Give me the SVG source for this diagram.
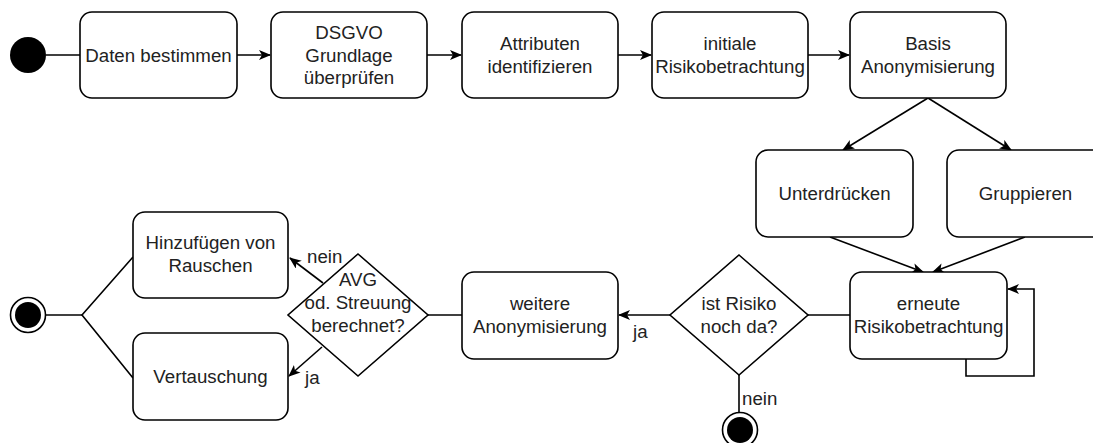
<svg xmlns="http://www.w3.org/2000/svg" width="1093" height="443" viewBox="0 0 1093 443">
  <style>
    .box { fill: #ffffff; stroke: #000000; stroke-width: 1.6; }
    .dec { fill: #ffffff; stroke: #000000; stroke-width: 1.6; }
    .edge { fill: none; stroke: #000000; stroke-width: 1.6; }
    .lbl { font-family: "Liberation Sans", Arial, sans-serif; font-size: 18.7px; fill: #222222; text-anchor: middle; }
    .elbl { font-family: "Liberation Sans", Arial, sans-serif; font-size: 18.7px; fill: #222222; text-anchor: start; }
  </style>
  <defs>
    <marker id="arrow" viewBox="0 0 12 10" refX="11" refY="5" markerWidth="12" markerHeight="10" markerUnits="userSpaceOnUse" orient="auto">
      <path d="M0,0 L12,5 L0,10 L3,5 Z" fill="#000000"/>
    </marker>
  </defs>
  <rect width="1093" height="443" fill="#ffffff"/>

  <!-- connectors -->
  <g id="connectors">
    <line class="edge" x1="46" y1="55" x2="80" y2="55"/>
    <line class="edge" x1="237" y1="55" x2="270" y2="55" marker-end="url(#arrow)"/>
    <line class="edge" x1="427" y1="55" x2="461" y2="55" marker-end="url(#arrow)"/>
    <line class="edge" x1="618" y1="55" x2="651" y2="55" marker-end="url(#arrow)"/>
    <line class="edge" x1="808" y1="55" x2="849" y2="55" marker-end="url(#arrow)"/>
    <line class="edge" x1="928" y1="98" x2="843" y2="150" marker-end="url(#arrow)"/>
    <line class="edge" x1="928" y1="98" x2="1011" y2="150" marker-end="url(#arrow)"/>
    <line class="edge" x1="830" y1="237" x2="923" y2="272" marker-end="url(#arrow)"/>
    <line class="edge" x1="1025" y1="237" x2="933" y2="272" marker-end="url(#arrow)"/>
    <polyline class="edge" points="966,359 966,376 1034,376 1034,289 1008,289" marker-end="url(#arrow)"/>
    <line class="edge" x1="850" y1="315" x2="808" y2="315"/>
    <line class="edge" x1="670" y1="315" x2="619" y2="315" marker-end="url(#arrow)"/>
    <text class="elbl" x="633" y="338">ja</text>
    <line class="edge" x1="739" y1="375" x2="739" y2="412"/>
    <text class="elbl" x="742" y="405">nein</text>
    <line class="edge" x1="462" y1="315" x2="428" y2="315"/>
    <line class="edge" x1="323" y1="283" x2="290" y2="258" marker-end="url(#arrow)"/>
    <text class="elbl" x="307" y="263">nein</text>
    <line class="edge" x1="322" y1="347" x2="289" y2="376" marker-end="url(#arrow)"/>
    <text class="elbl" x="305" y="384">ja</text>
    <polyline class="edge" points="133,257 82,315 133,378"/>
    <line class="edge" x1="46" y1="315" x2="82" y2="315"/>
  </g>

  <!-- start -->
  <g id="start">
    <circle cx="28" cy="55" r="18" fill="#000000"/>
  </g>

  <g id="daten-bestimmen">
    <rect class="box" x="80" y="12" width="157" height="86" rx="12"/>
    <text class="lbl" x="158.5" y="61.5">Daten bestimmen</text>
  </g>

  <g id="dsgvo">
    <rect class="box" x="271" y="12" width="156" height="86" rx="12"/>
    <text class="lbl" x="349" y="39">DSGVO</text>
    <text class="lbl" x="349" y="61.5">Grundlage</text>
    <text class="lbl" x="349" y="84">überprüfen</text>
  </g>

  <g id="attribute">
    <rect class="box" x="462" y="12" width="156" height="86" rx="12"/>
    <text class="lbl" x="540" y="50.3">Attributen</text>
    <text class="lbl" x="540" y="72.7">identifizieren</text>
  </g>

  <g id="initiale-risiko">
    <rect class="box" x="652" y="12" width="156" height="86" rx="12"/>
    <text class="lbl" x="730" y="50.3">initiale</text>
    <text class="lbl" x="730" y="72.7">Risikobetrachtung</text>
  </g>

  <g id="basis-anonymisierung">
    <rect class="box" x="850" y="12" width="156" height="86" rx="12"/>
    <text class="lbl" x="928" y="50.3">Basis</text>
    <text class="lbl" x="928" y="72.7">Anonymisierung</text>
  </g>

  <g id="unterdruecken">
    <rect class="box" x="756" y="150" width="157" height="87" rx="12"/>
    <text class="lbl" x="834.5" y="200">Unterdrücken</text>
  </g>

  <g id="gruppieren">
    <rect class="box" x="947" y="150" width="157" height="87" rx="12"/>
    <text class="lbl" x="1025.5" y="200">Gruppieren</text>
  </g>

  <g id="erneute-risiko">
    <rect class="box" x="850" y="272" width="157" height="87" rx="12"/>
    <text class="lbl" x="928.5" y="310.3">erneute</text>
    <text class="lbl" x="928.5" y="332.7">Risikobetrachtung</text>
  </g>

  <g id="risiko-check">
    <polygon class="dec" points="739,255 808,315 739,375 670,315"/>
    <text class="lbl" x="739" y="310">ist Risiko</text>
    <text class="lbl" x="739" y="333">noch da?</text>
  </g>

  <g id="final-bottom">
    <circle cx="740" cy="430" r="17.5" fill="#ffffff" stroke="#000000" stroke-width="1.6"/>
    <circle cx="740" cy="430" r="13" fill="#000000"/>
  </g>

  <g id="weitere-anonymisierung">
    <rect class="box" x="462" y="272" width="156" height="87" rx="12"/>
    <text class="lbl" x="540" y="310.3">weitere</text>
    <text class="lbl" x="540" y="332.7">Anonymisierung</text>
  </g>

  <g id="avg-check">
    <polygon class="dec" points="358,254 428,315 358,376 288,315"/>
    <text class="lbl" x="358" y="286">AVG</text>
    <text class="lbl" x="358" y="309">od. Streuung</text>
    <text class="lbl" x="358" y="332">berechnet?</text>
  </g>

  <g id="rauschen">
    <rect class="box" x="133" y="212" width="155" height="86" rx="12"/>
    <text class="lbl" x="210.5" y="249">Hinzufügen von</text>
    <text class="lbl" x="210.5" y="272">Rauschen</text>
  </g>

  <g id="vertauschung">
    <rect class="box" x="133" y="333" width="155" height="87" rx="12"/>
    <text class="lbl" x="210.5" y="383">Vertauschung</text>
  </g>

  <g id="final-left">
    <circle cx="28" cy="315" r="17.5" fill="#ffffff" stroke="#000000" stroke-width="1.6"/>
    <circle cx="28" cy="315" r="13" fill="#000000"/>
  </g>
</svg>
